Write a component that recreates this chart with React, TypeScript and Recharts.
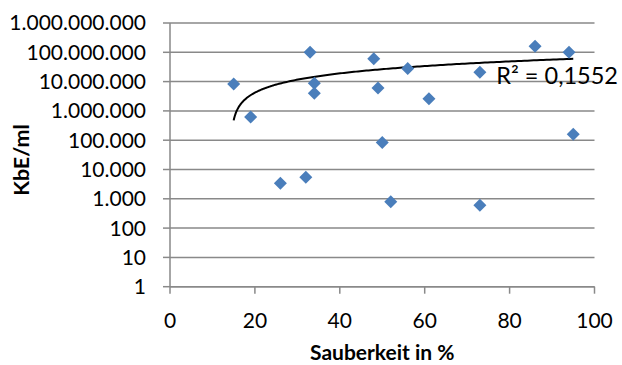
import React from "react";
import { ScatterChart, Scatter, XAxis, YAxis, CartesianGrid, Label } from "recharts";

// Sauberkeit in % (x) and KbE/ml (y)
const sauberkeit = [15, 19, 26, 32, 33, 34, 34, 48, 49, 50, 56, 61, 73, 86, 94, 95, 52, 73];
const kbe = [8.3e6, 6.2e5, 3.4e3, 5.4e3, 1.0e8, 8.7e6, 4.0e6, 6.0e7, 6.0e6, 8.3e4, 2.8e7, 2.6e6, 2.1e7, 1.6e8, 1.0e8, 1.6e5, 800, 600];

const xTicks = [0, 20, 40, 60, 80, 100];
const yTicks = [1, 10, 100, 1e3, 1e4, 1e5, 1e6, 1e7, 1e8, 1e9];
const r2Label = "R² = 0,1552";

const points = sauberkeit.map((x, i) => ({ x, y: kbe[i] }));

// Linear least-squares trendline (Excel "linear" trend), drawn on the log axis
const n = sauberkeit.length;
const mx = sauberkeit.reduce((a, b) => a + b, 0) / n;
const my = kbe.reduce((a, b) => a + b, 0) / n;
let sxy = 0;
let sxx = 0;
for (let i = 0; i < n; i++) {
  sxy += (sauberkeit[i] - mx) * (kbe[i] - my);
  sxx += (sauberkeit[i] - mx) * (sauberkeit[i] - mx);
}
const slope = sxy / sxx;
const intercept = my - slope * mx;
const xMin = Math.min(...sauberkeit);
const xMax = Math.max(...sauberkeit);
const trend: { x: number; y: number }[] = [];
for (let k = 0; k <= 200; k++) {
  const t = k / 200;
  const x = xMin + (xMax - xMin) * t * t;
  const y = slope * x + intercept;
  if (y > 0) trend.push({ x, y });
}

const fmt = (v: number) => String(Math.round(v)).replace(/\B(?=(\d{3})+(?!\d))/g, ".");

const FONT = "Lato, 'Open Sans', sans-serif";
const GRID = "#898989";

const Diamond = (props: any) => {
  const { cx, cy } = props;
  if (cx == null || cy == null) return null;
  const r = 6.5;
  return (
    <polygon
      points={`${cx},${cy - r} ${cx + r},${cy} ${cx},${cy + r} ${cx - r},${cy}`}
      fill="#4A7EBB"
    />
  );
};

const NoShape = () => null;

export default function App() {
  return (
    <div style={{ position: "absolute", left: 0, top: 0 }}>
      <ScatterChart
        width={622}
        height={365}
        margin={{ top: 23, right: 27.5, bottom: 0, left: 20 }}
      >
        <CartesianGrid vertical={false} stroke={GRID} strokeWidth={1.5} />
        <XAxis
          type="number"
          dataKey="x"
          domain={[0, 100]}
          ticks={xTicks}
          interval={0}
          height={78.3}
          tickSize={7}
          tickMargin={19}
          axisLine={{ stroke: GRID, strokeWidth: 1.5 }}
          tickLine={{ stroke: GRID, strokeWidth: 1.5 }}
          tick={{ fill: "#000", fontSize: 21, fontFamily: FONT }}
        >
          <Label
            value="Sauberkeit in %"
            position="insideBottom"
            offset={5.5}
            style={{ fill: "#000", fontSize: 21, fontWeight: 700, fontFamily: FONT }}
          />
        </XAxis>
        <YAxis
          type="number"
          dataKey="y"
          scale="log"
          domain={[1, 1e9]}
          ticks={yTicks}
          interval={0}
          allowDataOverflow
          width={150}
          tickSize={7}
          tickMargin={17}
          tickFormatter={fmt}
          axisLine={{ stroke: GRID, strokeWidth: 1.5 }}
          tickLine={{ stroke: GRID, strokeWidth: 1.5 }}
          tick={{ fill: "#000", fontSize: 21, fontFamily: FONT }}
        >
          <Label
            content={() => (
              <text
                x={21}
                y={160}
                transform="rotate(-90 21 160)"
                textAnchor="middle"
                dominantBaseline="central"
                style={{ fill: "#000", fontSize: 21.5, fontWeight: 700, fontFamily: FONT }}
              >
                KbE/ml
              </text>
            )}
          />
        </YAxis>
        <Scatter
          data={trend}
          line={{ stroke: "#000", strokeWidth: 2 }}
          lineType="joint"
          shape={NoShape}
          isAnimationActive={false}
        />
        <Scatter data={points} shape={Diamond} isAnimationActive={false} />
        <Scatter
          data={[{ x: xMax, y: slope * xMax + intercept }]}
          shape={(p: any) =>
            p.cx == null ? null : (
              <text
                x={p.cx - 77}
                y={p.cy + 25}
                style={{ fill: "#000", fontSize: 23.5, fontFamily: FONT }}
              >
                {r2Label}
              </text>
            )
          }
          isAnimationActive={false}
        />
      </ScatterChart>
    </div>
  );
}
